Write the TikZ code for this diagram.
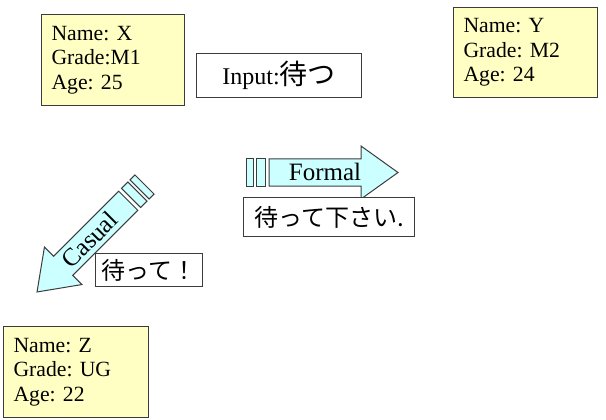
\documentclass[tikz,border=0pt]{standalone}
\usepackage{fontspec}
\setmainfont{Liberation Serif}
\newfontfamily\jp{Noto Sans CJK JP}
\definecolor{boxfill}{RGB}{255,255,196}
\definecolor{arrfill}{RGB}{204,255,255}
\definecolor{edgec}{RGB}{60,60,60}
\frenchspacing
\begin{document}
\begin{tikzpicture}[x=1pt,y=-1pt,
  info/.style={draw=edgec, line width=1pt, fill=boxfill, anchor=north west, align=left,
    inner xsep=10pt, inner ysep=0pt, font=\fontsize{21.7}{24.5}\selectfont},
  msg/.style={draw=edgec, line width=1pt, fill=white, anchor=north west, inner sep=0pt,
    font=\fontsize{24}{27}\selectfont},
  arr/.style={draw=edgec, line width=1pt, fill=arrfill},
  lbl/.style={font=\fontsize{25}{28}\selectfont, inner sep=0pt},
  bigarrow/.pic={
    \draw[arr] (0,-13.5) rectangle (7,13.5);
    \draw[arr] (10,-13.5) rectangle (19,13.5);
    \draw[arr] (23,-13.5) -- (115,-13.5) -- (115,-26.5) -- (152,0) -- (115,26.5) -- (115,13.5) -- (23,13.5) -- cycle;
  }]
\useasboundingbox (0,0) rectangle (606,420);
% person boxes
\node[info, minimum width=143pt, minimum height=91pt, text width=123pt] (x) at (41,14)
  {Name: X\\Grade:M1\\Age: 25};
\node[info, minimum width=144pt, minimum height=90pt, text width=124pt] (y) at (453,7)
  {Name: Y\\Grade: M2\\Age: 24};
\node[info, minimum width=145pt, minimum height=91pt, text width=125pt] (z) at (3,326)
  {Name: Z\\Grade: UG\\Age: 22};
% input box
\node[msg, minimum width=165pt, minimum height=44pt] (input) at (196,53)
  {Input:{\jp\fontsize{28}{30}\selectfont 待つ}};
% arrows
\pic at (246,172.5) {bigarrow};
\pic[rotate=225] at (144.5,184.5) {bigarrow};
\node[lbl] (formal) at (325,172) {Formal};
\node[lbl, rotate=45] (casual) at (89.5,239.5) {Casual};
% replies
\node[msg, minimum width=171pt, minimum height=39pt] (polite) at (243,197)
  {\jp 待って下さい.};
\node[msg, minimum width=107pt, minimum height=33pt] (plain) at (95,253)
  {\jp 待って！};
\end{tikzpicture}
\end{document}
